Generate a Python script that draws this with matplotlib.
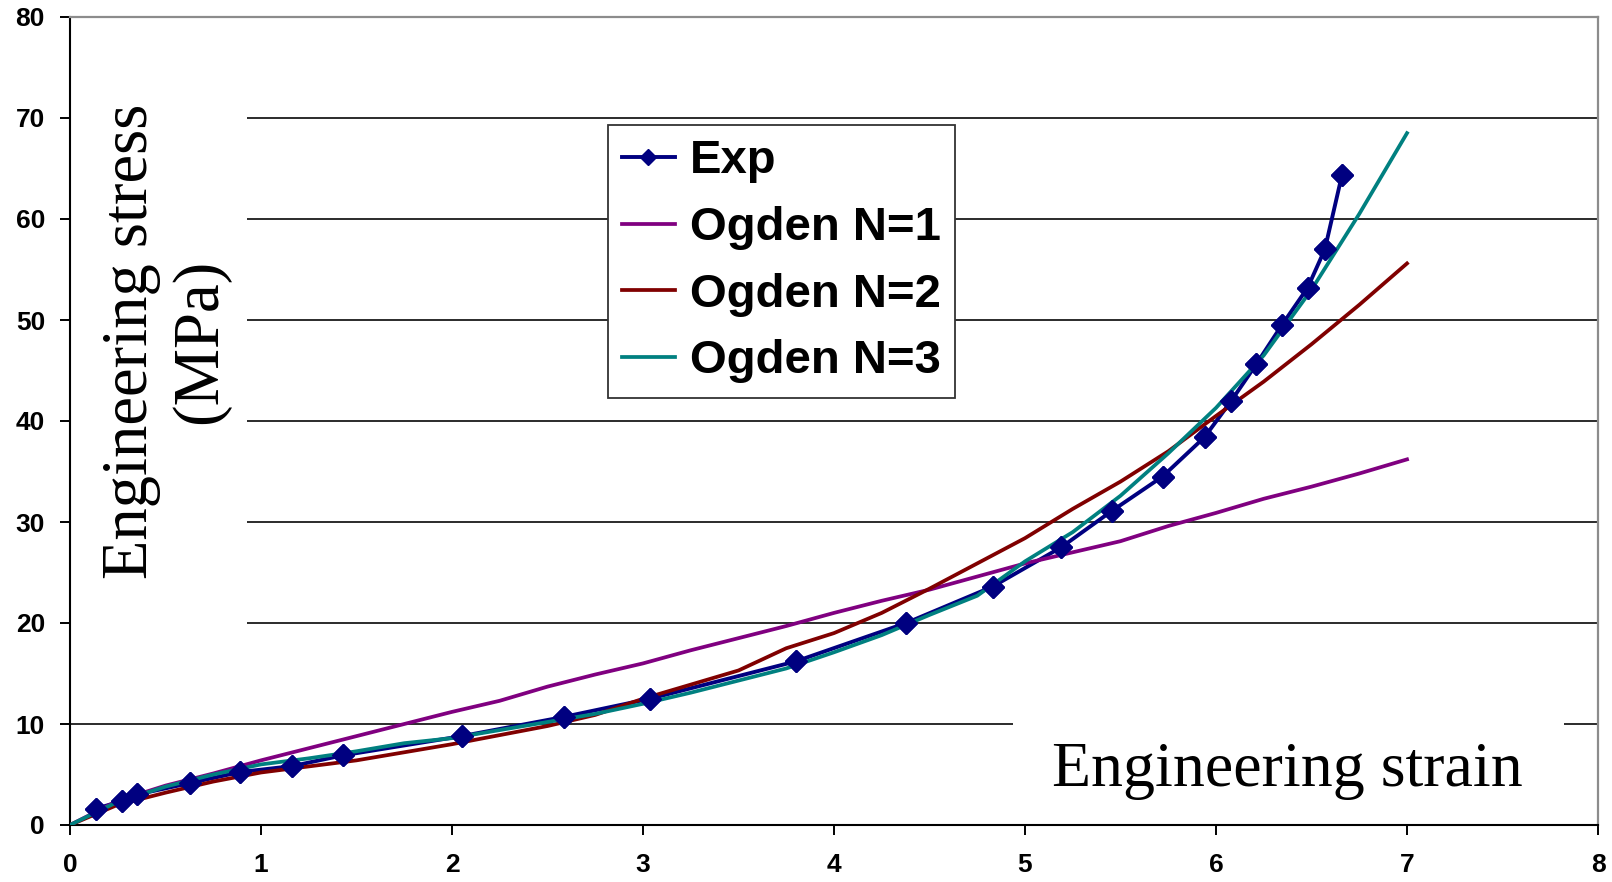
import numpy as np
import matplotlib
matplotlib.use("Agg")
import matplotlib.pyplot as plt
from matplotlib.patches import Rectangle


#### Data
# Experimental points (strain, stress in MPa)
exp_strain = [0.135, 0.27, 0.353, 0.628, 0.89, 1.162, 1.43, 2.054, 2.585, 3.036,
              3.80, 4.378, 4.83, 5.19, 5.455, 5.72, 5.94, 6.08, 6.21, 6.345,
              6.48, 6.57, 6.66]
exp_stress = [1.61, 2.36, 3.03, 4.15, 5.24, 5.83, 6.9, 8.81, 10.7, 12.5,
              16.2, 20.0, 23.6, 27.5, 31.1, 34.5, 38.4, 42.0, 45.6, 49.5,
              53.2, 57.0, 64.4]

# Ogden fits, sampled every 0.25 strain
fit_strain = [0.0, 0.25, 0.5, 0.75, 1.0, 1.25, 1.5, 1.75, 2.0, 2.25, 2.5, 2.75,
              3.0, 3.25, 3.5, 3.75, 4.0, 4.25, 4.5, 4.75, 5.0, 5.25, 5.5, 5.75,
              6.0, 6.25, 6.5, 6.75, 7.0]
ogden_n1 = [0.0, 2.4, 3.9, 5.1, 6.4, 7.6, 8.8, 10.0, 11.2, 12.3, 13.7, 14.9,
            16.0, 17.3, 18.5, 19.7, 21.0, 22.2, 23.3, 24.6, 25.9, 27.0, 28.1, 29.6,
            30.9, 32.3, 33.5, 34.8, 36.2]
ogden_n2 = [0.0, 2.0, 3.2, 4.3, 5.2, 5.8, 6.4, 7.2, 8.0, 8.9, 9.8, 10.9,
            12.5, 13.9, 15.3, 17.5, 19.0, 21.0, 23.4, 25.9, 28.4, 31.3, 34.0, 37.0,
            40.5, 43.9, 47.6, 51.5, 55.6]
ogden_n3 = [0.0, 2.3, 3.8, 5.0, 6.0, 6.6, 7.3, 8.1, 8.6, 9.4, 10.2, 11.0,
            12.0, 13.1, 14.3, 15.5, 17.1, 18.8, 20.8, 22.7, 26.1, 29.0, 32.6, 36.8,
            41.3, 46.5, 53.0, 60.5, 68.5]

x_ticks = list(range(0, 9))
y_ticks = list(range(0, 90, 10))

serif = ["Liberation Serif", "DejaVu Serif"]
sans = ["Liberation Sans", "DejaVu Sans"]

# tick labels: bold Arial-like
plt.rcParams["font.family"] = sans
plt.rcParams["font.weight"] = "bold"
plt.rcParams["font.size"] = 19

fig = plt.figure(figsize=(16.12, 8.82), dpi=100)
ax = fig.add_axes([70 / 1612, 1 - 825 / 882, 1528 / 1612, 808 / 882])

ax.set_xlim(0, 8)
ax.set_ylim(0, 80)
ax.set_xticks(x_ticks)
ax.set_yticks(y_ticks)

# grid + frame, Excel style
ax.set_axisbelow(True)
ax.yaxis.grid(True, color="#1a1a1a", linewidth=1.3)
for side in ("left", "bottom"):
    ax.spines[side].set_color("black")
    ax.spines[side].set_linewidth(1.5)
for side in ("top", "right"):
    ax.spines[side].set_color("#8c8c8c")
    ax.spines[side].set_linewidth(1.6)

ax.tick_params(axis="both", direction="out", length=7, width=1.4,
               color="black", labelsize=19)
ax.tick_params(axis="x", pad=13)
ax.tick_params(axis="y", pad=11)

# white boxes behind the axis titles (they hide the gridlines)
ax.add_patch(Rectangle((0.0, 0.204), 0.116, 0.77, transform=ax.transAxes,
                       facecolor="white", edgecolor="none", zorder=1))
ax.add_patch(Rectangle((0.617, 0.005), 0.361, 0.162, transform=ax.transAxes,
                       facecolor="white", edgecolor="none", zorder=1))

# series
ax.plot(exp_strain, exp_stress, color="#000080", linewidth=2.8,
        marker="D", markersize=11, label="Exp", zorder=2)
ax.plot(fit_strain, ogden_n1, color="#800080", linewidth=2.7,
        label="Ogden N=1", zorder=3)
ax.plot(fit_strain, ogden_n2, color="#800000", linewidth=2.7,
        label="Ogden N=2", zorder=4)
ax.plot(fit_strain, ogden_n3, color="#008080", linewidth=2.7,
        label="Ogden N=3", zorder=5)
# markers on top of every line
ax.plot(exp_strain, exp_stress, linestyle="none", marker="D", markersize=11,
        color="#000080", zorder=6)

# axis titles placed inside the plot area, like the original
ax.text(0.0625, 0.599, "Engineering stress\n(MPa)", transform=ax.transAxes,
        rotation=90, ha="center", va="center", multialignment="center",
        family=serif, fontweight="normal", fontsize=46.5, zorder=7)
ax.text(0.797, 0.048, "Engineering strain", transform=ax.transAxes,
        ha="center", va="baseline", family=serif, fontweight="normal",
        fontsize=46, zorder=7)

leg = ax.legend(loc="upper left", bbox_to_anchor=(0.352, 0.866),
                prop={"family": sans, "weight": "bold", "size": 34},
                frameon=True, fancybox=False, shadow=False, framealpha=1,
                edgecolor="#333333", borderpad=0.3, handlelength=1.12,
                handletextpad=0.32, labelspacing=0.48, borderaxespad=0,
                markerscale=0.75)
leg.get_frame().set_linewidth(1.3)
leg.set_zorder(8)

fig.savefig("out.png", dpi=100)
